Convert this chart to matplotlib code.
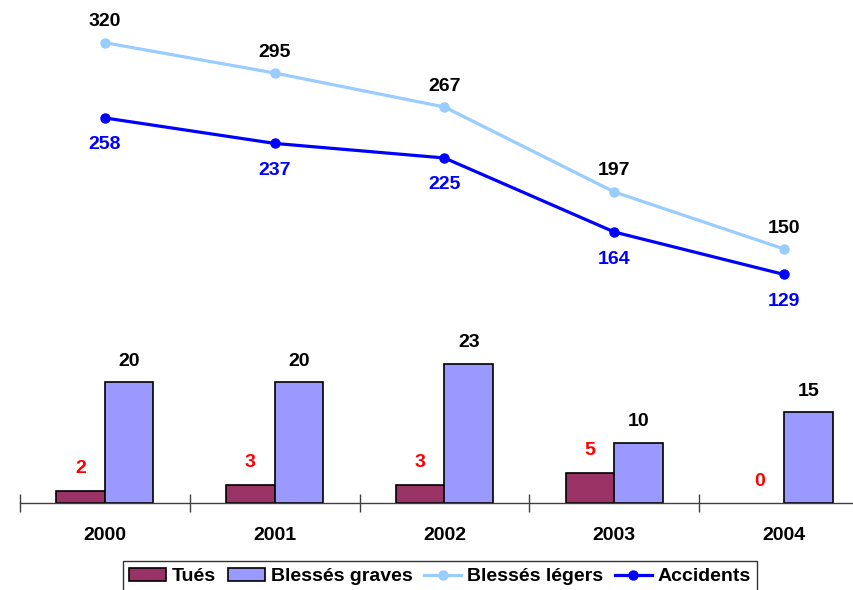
import matplotlib
matplotlib.use("Agg")
import matplotlib.pyplot as plt
import numpy as np

years = ["2000", "2001", "2002", "2003", "2004"]
tues = [2, 3, 3, 5, 0]
blesses_graves = [20, 20, 23, 10, 15]
blesses_legers = [320, 295, 267, 197, 150]
accidents = [258, 237, 225, 164, 129]

plt.rcParams['font.family'] = ['Liberation Sans', 'DejaVu Sans']
FS = 14

W, H = 854, 590
fig = plt.figure(figsize=(W / 100, H / 100), dpi=100)
left_px, right_px, top_px, bottom_px = 20, 869, 20, 503
ax = fig.add_axes([left_px / W, 1 - bottom_px / H, (right_px - left_px) / W, (bottom_px - top_px) / H])
ax2 = ax.twinx()

x = np.arange(len(years))
bw = 0.286
b1 = ax.bar(x - bw / 2, tues, bw, color="#993366", edgecolor="black", linewidth=1.2, label="Tués", zorder=2)
b2 = ax.bar(x + bw / 2, blesses_graves, bw, color="#9999FF", edgecolor="black", linewidth=1.2, label="Blessés graves", zorder=2)
for p in list(b1) + list(b2):
    if p.get_height() == 0:
        p.set_visible(False)

for xi, v in zip(x, tues):
    ax.annotate(str(v), (xi - bw / 2, v), xytext=(0, 22), textcoords="offset pixels",
                ha="center", va="center", color="#FF0000", fontsize=FS, fontweight="bold")
for xi, v in zip(x, blesses_graves):
    ax.annotate(str(v), (xi + bw / 2, v), xytext=(0, 21), textcoords="offset pixels",
                ha="center", va="center", color="black", fontsize=FS, fontweight="bold")

l1, = ax2.plot(x, blesses_legers, color="#99CCFF", lw=2.3, marker="o", ms=6.5, label="Blessés légers", clip_on=False)
l2, = ax2.plot(x, accidents, color="#0000FF", lw=2.3, marker="o", ms=6.5, label="Accidents", clip_on=False)
for xi, v in zip(x, blesses_legers):
    ax2.annotate(str(v), (xi, v), xytext=(0, 21), textcoords="offset pixels",
                 ha="center", va="center", color="black", fontsize=FS, fontweight="bold")
for xi, v in zip(x, accidents):
    ax2.annotate(str(v), (xi, v), xytext=(0, -27), textcoords="offset pixels",
                 ha="center", va="center", color="#0000FF", fontsize=FS, fontweight="bold")

ax.set_xlim(-0.5, 4.5)
ax.set_ylim(0, (bottom_px - top_px) / 6.05)
ax2.set_ylim(-59.3, 338.7)

for a in (ax, ax2):
    for s in ("top", "right", "left"):
        a.spines[s].set_visible(False)
    a.set_yticks([])
ax2.spines["bottom"].set_visible(False)
ax.spines["bottom"].set_color("#404040")
ax.spines["bottom"].set_linewidth(1.0)

ax.set_xticks(x)
ax.set_xticklabels(years, fontsize=FS, fontweight="bold")
ax.tick_params(axis="x", which="major", length=0, pad=17)
ax.set_xticks(np.arange(-0.5, 5.0, 1.0), minor=True)
ax.tick_params(axis="x", which="minor", direction="inout", length=13, width=1, color="#404040")

leg = fig.legend(handles=[b1, b2, l1, l2], loc="upper center", bbox_to_anchor=(440 / W, 1 - 561 / H),
                 ncol=4, frameon=True, fancybox=False, edgecolor="black",
                 prop={"weight": "bold", "size": FS}, handlelength=1.9, handletextpad=0.3,
                 columnspacing=0.6, borderpad=0.35, borderaxespad=0)
leg.get_frame().set_linewidth(1.0)

fig.savefig("out.png", dpi=100)
